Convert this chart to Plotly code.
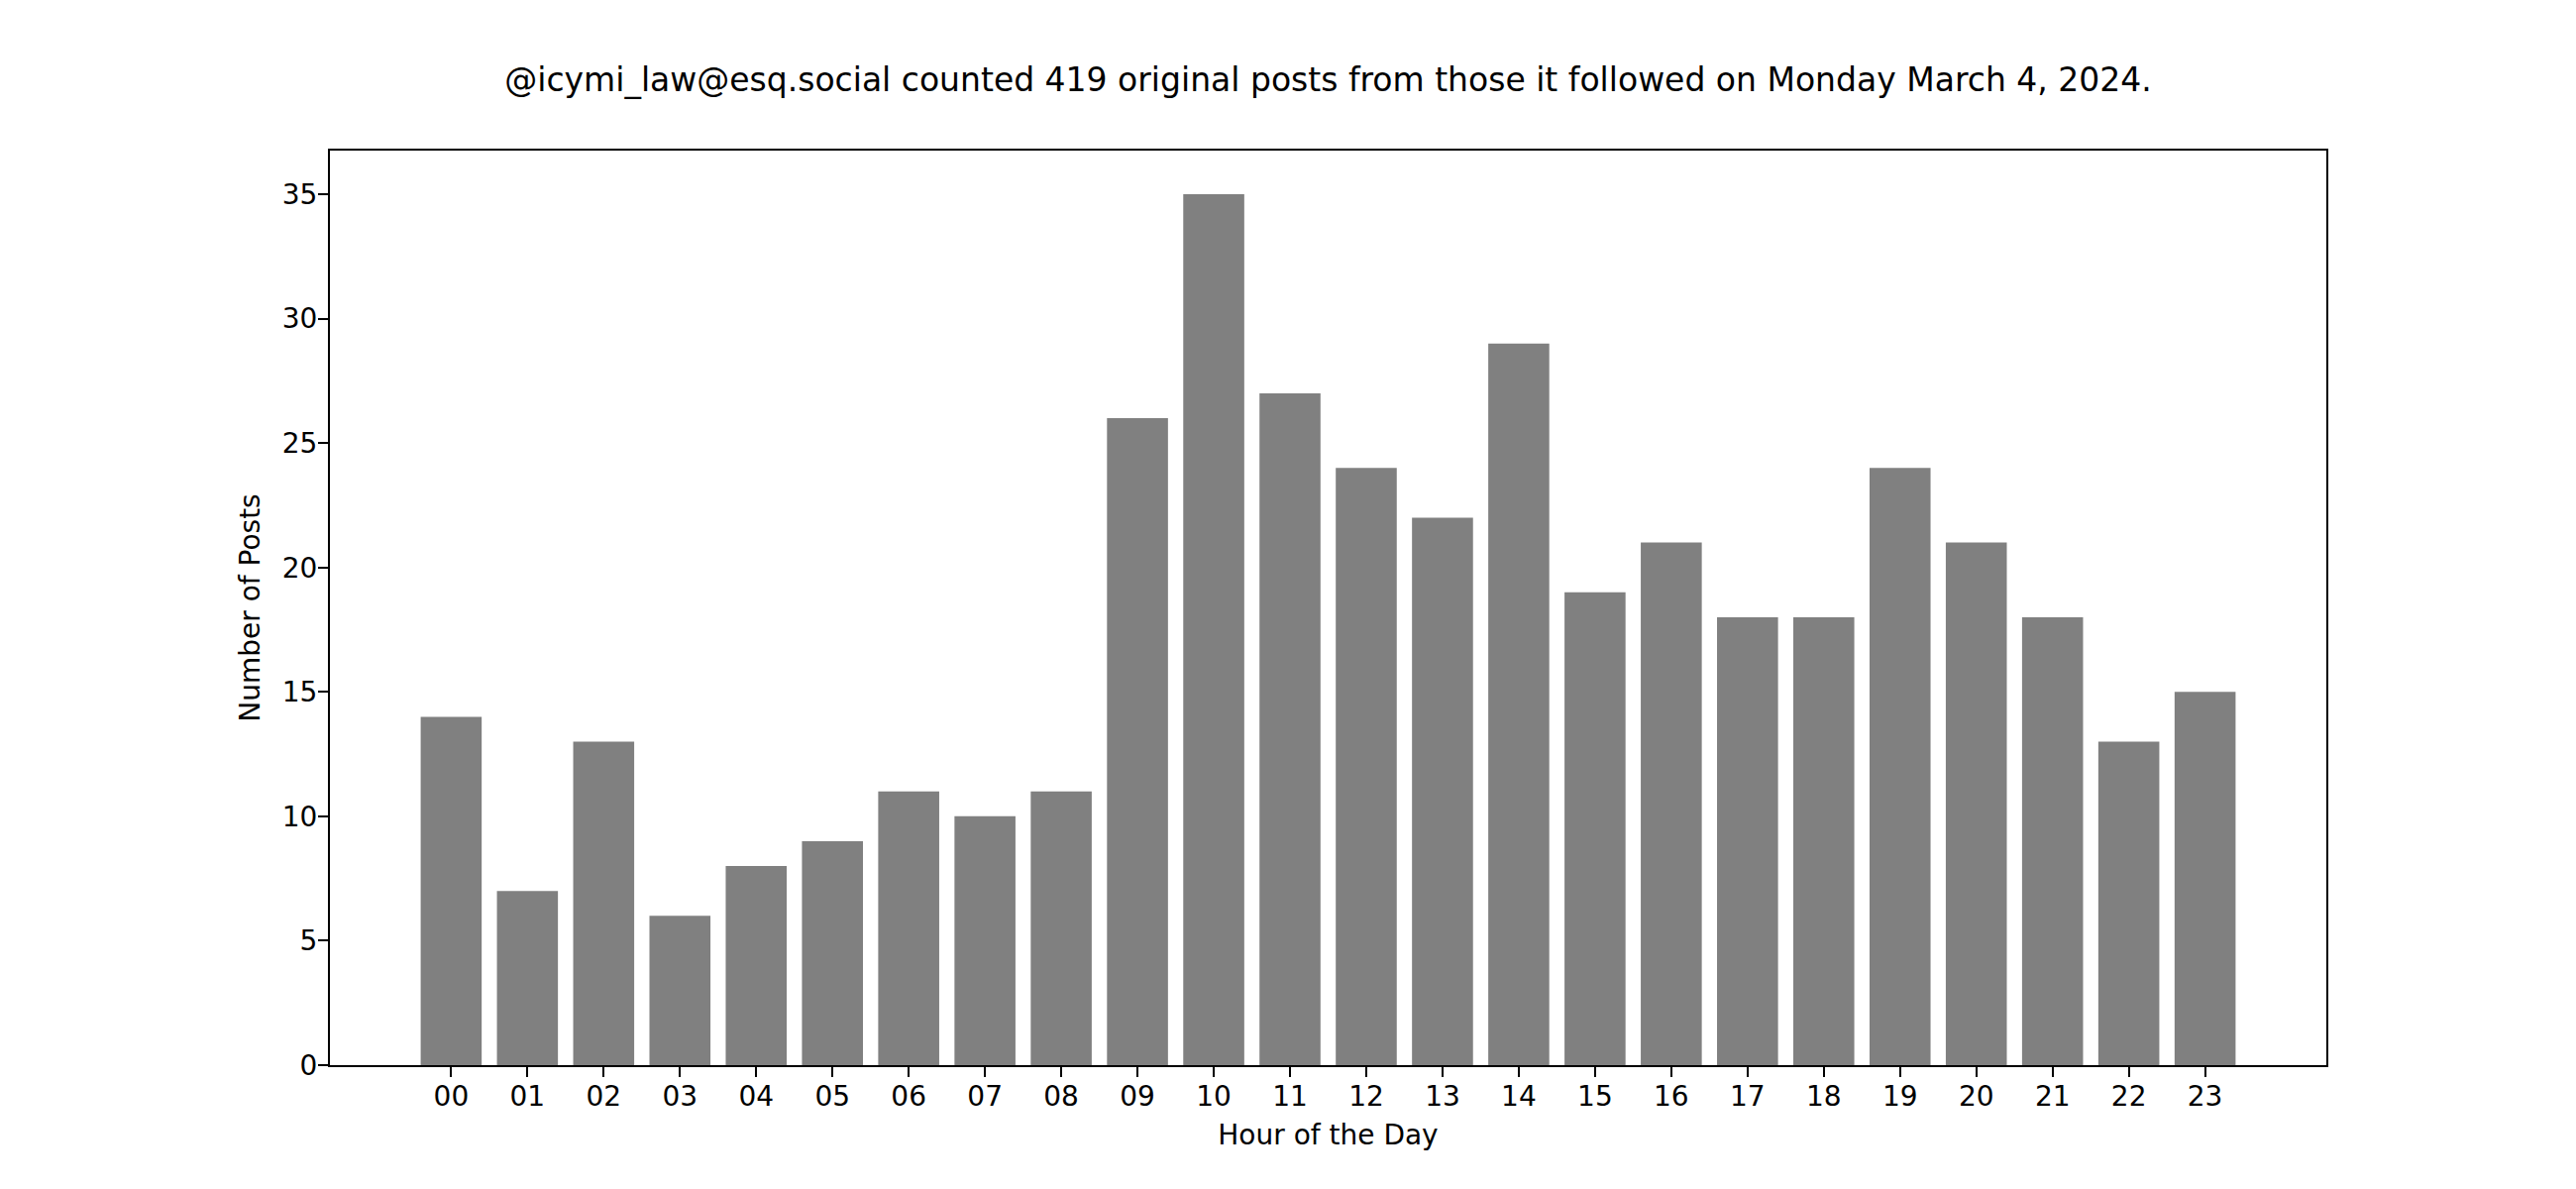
import plotly.graph_objects as go

hours = [f"{h:02d}" for h in range(24)]
posts = [14, 7, 13, 6, 8, 9, 11, 10, 11, 26, 35, 27,
         24, 22, 29, 19, 21, 18, 18, 24, 21, 18, 13, 15]
title_text = "@icymi_law@esq.social counted 419 original posts from those it followed on Monday March 4, 2024."

fig = go.Figure(
    go.Bar(x=hours, y=posts, marker=dict(color="#808080", line=dict(width=0)))
)

axis_style = dict(
    showline=True,
    mirror=True,
    linecolor="black",
    linewidth=2.2,
    ticks="outside",
    ticklen=10,
    tickwidth=2.2,
    tickcolor="black",
    showgrid=False,
    zeroline=False,
    ticklabelstandoff=-5,
    tickfont=dict(size=28, color="black"),
)

fig.update_layout(
    width=2600,
    height=1200,
    margin=dict(l=325, r=260, t=144, b=133),
    paper_bgcolor="white",
    plot_bgcolor="white",
    font=dict(family="DejaVu Sans", color="black"),
    bargap=0.2,
    showlegend=False,
    title=dict(
        text=title_text,
        x=0.5,
        xref="paper",
        xanchor="center",
        y=1 - 72 / 1200,
        yref="container",
        yanchor="middle",
        font=dict(size=33, color="black"),
    ),
    xaxis=dict(
        axis_style,
        type="category",
        range=[-1.59, 24.59],
        title=dict(text="Hour of the Day", font=dict(size=28), standoff=14),
    ),
    yaxis=dict(
        axis_style,
        range=[0, 36.75],
        dtick=5,
        title=dict(text="Number of Posts", font=dict(size=28), standoff=14),
    ),
)

fig.write_html("out.html")
